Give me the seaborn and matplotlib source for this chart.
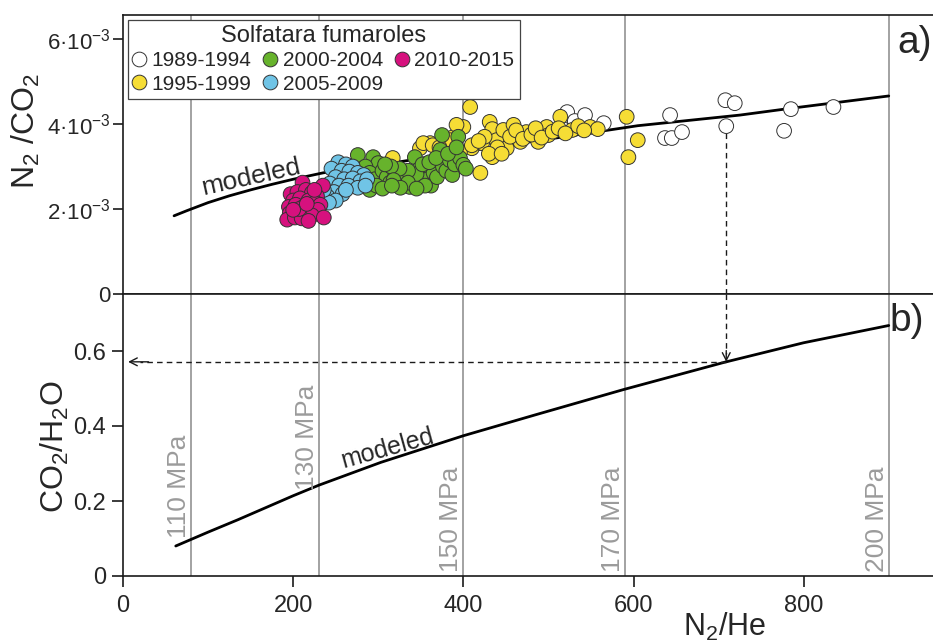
import numpy as np
import pandas as pd
import matplotlib
matplotlib.use('Agg')
import matplotlib.pyplot as plt
import seaborn as sns

# --- data ---------------------------------------------------------------
periods = ['1989-1994', '1995-1999', '2000-2004', '2005-2009', '2010-2015']
period_colors = ['#ffffff', '#f6dd35', '#67b32c', '#70c4e6', '#d6117e']

# N2/He and N2/CO2 (in units of 1e-3) for each sampling period
n2he_8994 = [522, 531, 543, 565, 517, 643, 637, 645, 657, 708, 719, 709, 785, 777, 835]
n2co2_8994 = [4.28, 4.07, 4.21, 4.02, 3.88, 4.21, 3.67, 3.67, 3.81, 4.56, 4.49, 3.95, 4.35, 3.84, 4.40]

n2he_9599 = [408, 361, 349, 400, 388, 410, 420, 431, 434, 422, 439, 434, 447, 451, 459, 467,
             474, 488, 498, 500, 514, 528, 549, 558, 592, 594, 605, 353, 384, 396, 317, 364,
             410, 425, 440, 455, 462, 470, 480, 485, 492, 505, 512, 520, 535, 542, 430, 445,
             418, 392, 372]
n2co2_9599 = [4.40, 3.55, 3.43, 3.93, 3.69, 3.43, 2.85, 4.05, 3.88, 3.55, 3.62, 3.22, 3.86, 3.43, 3.98, 3.58,
              3.81, 3.58, 3.93, 3.74, 4.17, 3.86, 3.93, 3.88, 4.17, 3.22, 3.62, 3.55, 3.62, 3.34, 3.20, 3.50,
              3.50, 3.70, 3.45, 3.70, 3.85, 3.65, 3.75, 3.90, 3.68, 3.82, 3.90, 3.78, 3.95, 3.85, 3.30, 3.30,
              3.60, 3.98, 3.45]

n2he_0004 = [276, 294, 300, 285, 290, 296, 290, 305, 310, 314, 320, 326, 330, 337, 343, 347,
             341, 350, 355, 358, 362, 365, 369, 373, 375, 376, 380, 384, 387, 390, 394, 396,
             400, 403, 345, 335, 325, 315, 308, 352, 360, 368, 382, 392, 335, 355, 298, 318,
             305, 326, 345, 316]
n2co2_0004 = [3.27, 3.22, 3.08, 3.00, 2.85, 2.70, 2.45, 2.90, 2.75, 2.62, 2.80, 2.60, 2.72, 2.52, 3.22, 2.92,
              2.75, 2.62, 2.96, 2.70, 2.55, 2.85, 2.75, 3.39, 3.74, 3.00, 2.90, 3.15, 2.80, 3.05, 3.70, 3.20,
              3.04, 2.95, 2.82, 2.90, 2.95, 3.00, 3.05, 3.05, 3.10, 3.20, 3.30, 3.45, 2.62, 2.55, 2.55, 2.68,
              2.48, 2.50, 2.48, 2.55]

n2he_0509 = [253, 262, 270, 245, 257, 266, 276, 283, 250, 260, 270, 279, 287, 243, 254, 265,
             276, 248, 258, 240, 250, 242, 262, 285, 236]
n2co2_0509 = [3.10, 3.05, 3.00, 2.95, 2.90, 2.88, 2.85, 2.80, 2.75, 2.70, 2.72, 2.65, 2.70, 2.60, 2.55, 2.55,
              2.50, 2.40, 2.35, 2.30, 2.20, 2.15, 2.45, 2.55, 2.45]

n2he_1015 = [211, 235, 197, 205, 215, 222, 228, 200, 208, 218, 226, 232, 195, 203, 212, 220,
             229, 196, 205, 214, 222, 193, 202, 210, 218, 236, 207, 216, 200, 225]
n2co2_1015 = [2.62, 2.55, 2.35, 2.40, 2.45, 2.38, 2.30, 2.20, 2.25, 2.20, 2.15, 2.10, 2.05, 2.10, 2.05, 2.00,
              1.98, 1.90, 1.95, 1.88, 1.85, 1.75, 1.80, 1.78, 1.72, 1.80, 2.00, 2.12, 1.98, 2.45]

# modeled curves
model_n2he_a = [60, 75, 100, 125, 150, 175, 200, 235, 280, 325, 400, 505, 605, 725, 785, 900]
model_n2co2 = [1.84, 1.96, 2.15, 2.31, 2.45, 2.58, 2.70, 2.85, 2.98, 3.11, 3.35, 3.66, 3.96, 4.21, 4.37, 4.66]

model_n2he_b = [62, 100, 135, 200, 230, 303, 400, 485, 588, 707, 800, 900]
model_co2h2o = [0.080, 0.117, 0.150, 0.214, 0.242, 0.303, 0.374, 0.430, 0.497, 0.570, 0.622, 0.668]

# isobars
pressure_n2he = [80, 230, 400, 590, 900]
pressure_labels = ['110 MPa', '130 MPa', '150 MPa', '170 MPa', '200 MPa']
pressure_label_y = [0.10, 0.23, 0.01, 0.01, 0.01]

example_n2he = 709
example_n2co2 = 3.95

# --- build dataframe ----------------------------------------------------
groups = [(n2he_8994, n2co2_8994), (n2he_9599, n2co2_9599), (n2he_0004, n2co2_0004),
          (n2he_0509, n2co2_0509), (n2he_1015, n2co2_1015)]
frames = []
for p, (gx, gy) in zip(periods, groups):
    frames.append(pd.DataFrame({'n2_he': gx, 'n2_co2': gy, 'period': p}))
df = pd.concat(frames, ignore_index=True)

# --- style --------------------------------------------------------------
sns.set_style('ticks')
plt.rcParams['font.family'] = ['Liberation Sans', 'DejaVu Sans']
plt.rcParams['mathtext.default'] = 'regular'

W, H = 933, 643
fig = plt.figure(figsize=(W / 100, H / 100), dpi=100)
left = 123 / W
width = (W - 123) / W
ax1 = fig.add_axes([left, 1 - 294 / H, width, (294 - 15) / H])
ax2 = fig.add_axes([left, 1 - 576 / H, width, (576 - 294) / H])

grey = '#9b9b9b'
ink = '#1a1a1a'

for ax in (ax1, ax2):
    ax.set_xlim(0, 952)
    for v in pressure_n2he:
        ax.axvline(v, color=grey, lw=1.3, zorder=0.5)
    for side in ['left', 'top', 'bottom']:
        ax.spines[side].set_linewidth(1.2)
        ax.spines[side].set_color(ink)
    ax.spines['right'].set_visible(False)

# --- panel a ------------------------------------------------------------
sns.scatterplot(data=df, x='n2_he', y='n2_co2', hue='period', hue_order=periods,
                palette=dict(zip(periods, period_colors)), s=112, edgecolor='#333333',
                linewidth=0.7, ax=ax1, zorder=3)
sns.lineplot(x=model_n2he_a, y=model_n2co2, color='black', lw=2, sort=False,
             estimator=None, ax=ax1, zorder=2)
ax1.set_ylim(0, 6.565)
ax1.set_yticks([0, 2, 4, 6])
ax1.set_yticklabels(['0', '2·10$^{-3}$', '4·10$^{-3}$', '6·10$^{-3}$'])
ax1.tick_params(axis='y', direction='out', length=7, width=1.2, color=ink, labelsize=16, pad=2)
ax1.tick_params(axis='x', bottom=False, labelbottom=False)
ax1.set_xlabel('')
ax1.set_ylabel('')
ax1.text(150, 2.74, 'modeled', rotation=12.5, rotation_mode='anchor', ha='center', va='center',
         fontsize=19)

handles, labels = ax1.get_legend_handles_labels()
leg = ax1.legend(handles, labels, title='Solfatara fumaroles', ncol=3, loc='upper left',
                 bbox_to_anchor=(0.006, 0.982), borderaxespad=0, fontsize=15,
                 title_fontsize=17, frameon=True, fancybox=False, edgecolor='#444444',
                 handlelength=0.6, handletextpad=0.3, columnspacing=0.6, labelspacing=0.2,
                 borderpad=0.25, framealpha=1)
leg.get_frame().set_linewidth(0.9)

# dashed reading line from the sample down to the model curve
dash = (0, (4, 3))
ax1.plot([example_n2he, example_n2he], [example_n2co2 - 0.17, 0], ls=dash, color=ink, lw=1)

# --- panel b ------------------------------------------------------------
sns.lineplot(x=model_n2he_b, y=model_co2h2o, color='black', lw=2, sort=False,
             estimator=None, ax=ax2, zorder=2)
ax2.set_ylim(0, 0.752)
ax2.set_yticks([0, 0.2, 0.4, 0.6])
ax2.set_yticklabels(['0', '0.2', '0.4', '0.6'])
ax2.set_xticks([0, 200, 400, 600, 800])
ax2.tick_params(axis='both', direction='out', length=8, width=1.2, color=ink, labelsize=17)
ax2.tick_params(axis='y', pad=4)
ax2.tick_params(axis='x', pad=6)
ax2.set_xlabel('')
ax2.set_ylabel('')
ax2.text(311, 0.34, 'modeled', rotation=15.5, rotation_mode='anchor', ha='center', va='center',
         fontsize=18)

for v, lab, ly in zip(pressure_n2he, pressure_labels, pressure_label_y):
    ax2.text(v - 6, ly, lab, rotation=90, rotation_mode='anchor', ha='left', va='baseline',
             color=grey, fontsize=19)

curve_y = np.interp(example_n2he, model_n2he_b, model_co2h2o)
arrow = dict(arrowstyle='->,head_length=0.55,head_width=0.28', lw=1, color=ink,
             shrinkA=0, shrinkB=0)
ax2.plot([example_n2he, example_n2he], [0.752, curve_y + 0.02], ls=dash, color=ink, lw=1)
ax2.annotate('', xy=(example_n2he, curve_y), xytext=(example_n2he, curve_y + 0.03),
             arrowprops=arrow)
ax2.plot([example_n2he, 20], [curve_y, curve_y], ls=dash, color=ink, lw=1)
ax2.annotate('', xy=(6, curve_y), xytext=(30, curve_y), arrowprops=arrow)

# --- labels -------------------------------------------------------------
fig.text(26 / W, 1 - 131 / H, 'N$_2$ /CO$_2$', rotation=90, ha='center', va='center', fontsize=23)
fig.text(55 / W, 1 - 447 / H, 'CO$_2$/H$_2$O', rotation=90, ha='center', va='center', fontsize=23)
fig.text(725 / W, 1 - 636 / H, 'N$_2$/He', ha='center', va='baseline', fontsize=22)
fig.text(897 / W, 1 - 53 / H, 'a)', ha='left', va='baseline', fontsize=28)
fig.text(889 / W, 1 - 331 / H, 'b)', ha='left', va='baseline', fontsize=28)

fig.savefig('out.png', dpi=100)
